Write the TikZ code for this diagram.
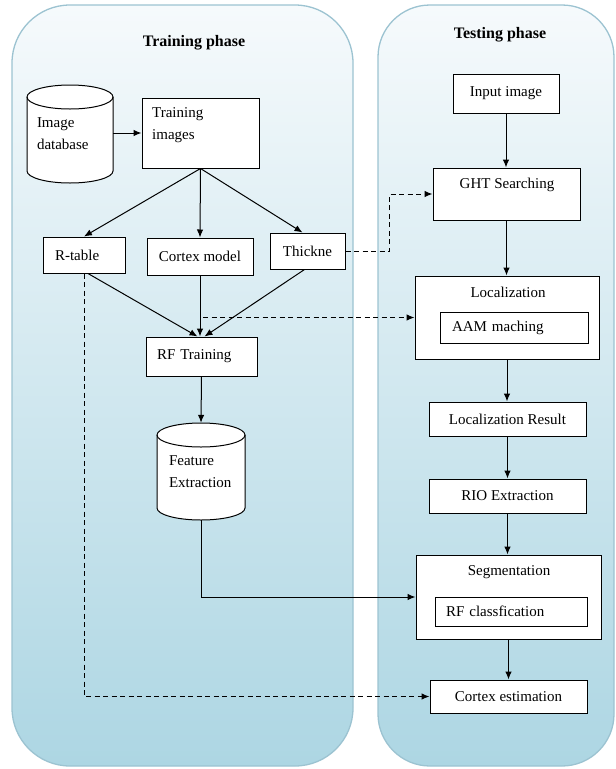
\documentclass[tikz,border=0pt]{standalone}
\usepackage{fontspec}
\setmainfont{Liberation Serif}
\usetikzlibrary{arrows.meta,calc}
\definecolor{panelborder}{HTML}{9CC3D1}
\definecolor{paneltop}{HTML}{F6FAFC}
\definecolor{panelbot}{HTML}{ADD6E3}
\tikzset{
  panel/.style={draw=panelborder, line width=1.3pt, top color=paneltop, bottom color=panelbot},
  box/.style={draw, fill=white, line width=1pt, font=\fontsize{15}{22}\selectfont, inner sep=0pt, align=center},
  lbox/.style={box, align=left},
  txt/.style={font=\fontsize{15}{22}\selectfont, inner sep=0pt, align=left},
  ttl/.style={font=\fontsize{16}{20}\selectfont\bfseries, inner sep=0pt},
  cyl/.style={draw, fill=white, line width=1pt},
  arr/.style={line width=1pt, -{Latex[length=8pt,width=6.5pt]}},
  darr/.style={arr, dash pattern=on 5pt off 3.5pt}
}
\begin{document}
\begin{tikzpicture}[x=1pt,y=1pt]
\useasboundingbox (0,0) rectangle (616,-769);
% panels
\path[panel, rounded corners=58pt] (12,-5) rectangle (353,-766);
\path[panel, rounded corners=52pt] (378,-5) rectangle (614,-766);
% cylinders
\draw[cyl] (27,-97) -- (27,-171) arc[start angle=180,end angle=360,x radius=43,y radius=12] -- (113,-97) arc[start angle=0,end angle=180,x radius=43,y radius=12] -- cycle;
\draw[line width=1pt] (27,-97) arc[start angle=180,end angle=360,x radius=43,y radius=12];
\draw[cyl] (157,-435) -- (157,-508) arc[start angle=180,end angle=360,x radius=44,y radius=12] -- (245,-435) arc[start angle=0,end angle=180,x radius=44,y radius=12] -- cycle;
\draw[line width=1pt] (157,-435) arc[start angle=180,end angle=360,x radius=44,y radius=12];
% titles
\node[ttl] (trtitle) at (194,-43) {Training phase};
\node[ttl] (tetitle) at (500,-35) {Testing phase};
% training side
\node[txt, minimum width=86pt, minimum height=98pt, text width=66pt, inner xsep=10pt] (db) at (70,-134) {Image\\database};
\node[box, minimum width=117pt, minimum height=70pt] (trimg) at (200.5,-133) {};
\node[txt, anchor=north west] (trimgtxt) at (152,-107) {Training\\images};
\node[lbox, minimum width=82pt, minimum height=36pt, text width=58pt, inner xsep=12pt] (rtable) at (84,-255) {R-table};
\node[box, minimum width=106pt, minimum height=37pt] (cortex) at (200,-256.5) {Cortex model};
\node[box, minimum width=75pt, minimum height=36pt] (thick) at (307.5,-251) {Thickne};
\node[lbox, minimum width=111pt, minimum height=39pt, text width=89pt, inner xsep=11pt] (rftrain) at (201.5,-356.5) {RF Training};
\node[txt, minimum width=88pt, minimum height=97pt, text width=64pt, inner xsep=12pt] (feat) at (201,-471.5) {Feature\\Extraction};
% testing side
\node[box, minimum width=106pt, minimum height=39pt] (inimg) at (506,-93.5) {Input image};
\node[box, minimum width=147pt, minimum height=52pt] (ght) at (506.5,-194) {};
\node[txt] (ghttxt) at (507,-185) {GHT Searching};
\node[box, minimum width=184pt, minimum height=83pt] (loc) at (507,-317.5) {};
\node[txt] (loctxt) at (508,-292) {Localization};
\node[lbox, minimum width=148pt, minimum height=31pt, text width=124pt, inner xsep=12pt] (aam) at (514,-327.5) {AAM maching};
\node[box, minimum width=157pt, minimum height=34pt] (locres) at (507.5,-419) {Localization Result};
\node[box, minimum width=157pt, minimum height=34pt] (rio) at (507.5,-496) {RIO Extraction};
\node[box, minimum width=185pt, minimum height=84pt] (seg) at (508.5,-597) {};
\node[txt] (segtxt) at (509,-572) {Segmentation};
\node[lbox, minimum width=152pt, minimum height=29pt, text width=130pt, inner xsep=11pt] (rfc) at (511,-611.5) {RF classfication};
\node[box, minimum width=157pt, minimum height=33pt] (cest) at (508.5,-696.5) {Cortex estimation};
% connectors (training)
\draw[arr] (db.east |- trimg.west) -- (trimg.west);
\draw[arr] (trimg.south) -- (rtable.north);
\draw[arr] (trimg.south) -- (cortex.north);
\draw[arr] (trimg.south) -- ([xshift=-5pt]thick.north);
\draw[arr] ([xshift=4pt]rtable.south) -- ([xshift=-4pt]rftrain.north);
\draw[arr] (cortex.south) -- (cortex.south |- rftrain.north);
\draw[arr] ([xshift=-3pt]thick.south) -- ([xshift=3pt]rftrain.north);
\draw[arr] (rftrain.south) -- (feat.north);
\draw[arr] (feat.south) |- (seg.west);
\draw[darr] (rtable.south) |- (cest.west);
\draw[darr] ($(cortex.south |- loc.west)+(3,0)$) -- (loc.west);
\draw[darr] (thick.east) -- ++(44,0) |- (ght.west);
% connectors (testing)
\draw[arr] (inimg.south) -- (inimg.south |- ght.north);
\draw[arr] (ght.south) -- (ght.south |- loc.north);
\draw[arr] (loc.south) -- (loc.south |- locres.north);
\draw[arr] (locres.south) -- (locres.south |- rio.north);
\draw[arr] (rio.south) -- (rio.south |- seg.north);
\draw[arr] (seg.south) -- (seg.south |- cest.north);
\end{tikzpicture}
\end{document}
